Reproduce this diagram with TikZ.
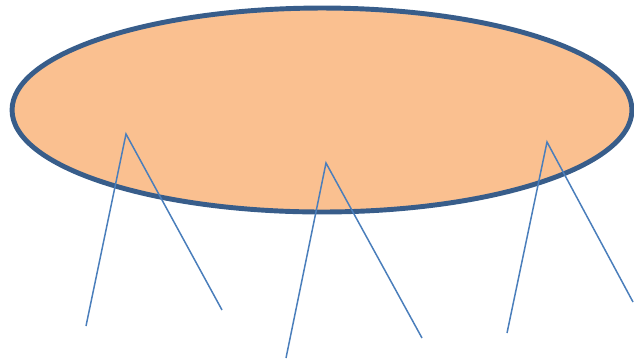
\documentclass[tikz,border=0pt]{standalone}
\usepackage{xcolor}
\usepackage{tikz}
\definecolor{BlobFill}{HTML}{FAC090}
\definecolor{BlobEdge}{HTML}{385D8A}
\definecolor{LegLine}{HTML}{4A7EBB}

\begin{document}
\begin{tikzpicture}[
  x=0.02cm, y=-0.02cm,
  blob/.style={draw=BlobEdge, fill=BlobFill, line width=2.8pt},
  leg/.style={draw=LegLine, line width=0.85pt}
]
  \useasboundingbox (0,0) rectangle (634,360);
  \draw[blob] (322,110) ellipse [x radius=6.2cm, y radius=2.04cm];

  % apexes and feet
  \coordinate (topA) at (126,134);
  \coordinate (footAl) at (86,326);
  \coordinate (footAr) at (222,310);
  \coordinate (topB) at (326,163);
  \coordinate (footBl) at (286,358);
  \coordinate (footBr) at (422,338);
  \coordinate (topC) at (547,142);
  \coordinate (footCl) at (507,333);
  \coordinate (footCr) at (633,302);

  \draw[leg] (footAl) -- (topA) -- (footAr);
  \draw[leg] (footBl) -- (topB) -- (footBr);
  \draw[leg] (footCl) -- (topC) -- (footCr);
\end{tikzpicture}
\end{document}
